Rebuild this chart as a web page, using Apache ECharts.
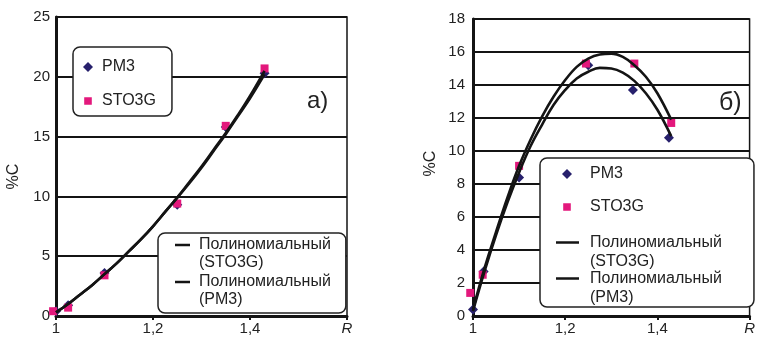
<!DOCTYPE html>
<html>
<head>
<meta charset="utf-8">
<script src="https://cdn.jsdelivr.net/npm/echarts@6/dist/echarts.min.js"></script>
<style>
html,body{margin:0;padding:0;background:#fff;}
#chart{width:758px;height:341px;}
</style>
</head>
<body>
<div id="chart"></div>
<script>
// ---------- data ----------
// chart а)
const R_PM3_A = [1.0, 1.025, 1.1, 1.25, 1.35, 1.43];
const PM3_A = [0.4, 0.9, 3.6, 9.3, 15.8, 20.3];
const R_STO3G_A = [0.994, 1.025, 1.1, 1.25, 1.35, 1.43];
const STO3G_A = [0.4, 0.7, 3.4, 9.4, 15.9, 20.7];
const TREND_R_A = [1.0, 1.025, 1.05, 1.075, 1.1, 1.125, 1.15, 1.175, 1.2, 1.225, 1.25, 1.275, 1.3, 1.325, 1.35, 1.375, 1.4, 1.43];
const TREND_STO3G_A = [0.3, 1.0, 1.8, 2.6, 3.5, 4.4, 5.4, 6.4, 7.5, 8.7, 9.9, 11.2, 12.5, 13.9, 15.3, 16.8, 18.4, 20.5];
const TREND_PM3_A = [0.3, 1.0, 1.8, 2.6, 3.5, 4.4, 5.4, 6.4, 7.5, 8.7, 9.9, 11.1, 12.4, 13.8, 15.2, 16.7, 18.2, 20.2];
// chart б)
const R_PM3_B = [1.0, 1.023, 1.1, 1.25, 1.347, 1.425];
const PM3_B = [0.4, 2.7, 8.4, 15.2, 13.7, 10.8];
const R_STO3G_B = [0.994, 1.021, 1.1, 1.245, 1.35, 1.43];
const STO3G_B = [1.4, 2.5, 9.1, 15.3, 15.3, 11.7];
const TREND_R_B = [1.0, 1.025, 1.05, 1.075, 1.1, 1.125, 1.15, 1.175, 1.2, 1.225, 1.25, 1.275, 1.3, 1.325, 1.35, 1.375, 1.4, 1.43];
const TREND_STO3G_B = [0.4, 2.9, 5.1, 7.2, 9.1, 10.7, 12.1, 13.3, 14.3, 15.1, 15.6, 15.85, 15.9, 15.7, 15.2, 14.5, 13.5, 11.9];
const TREND_PM3_B = [0.3, 2.7, 4.9, 6.9, 8.7, 10.3, 11.6, 12.8, 13.7, 14.4, 14.8, 15.04, 15.0, 14.75, 14.25, 13.5, 12.5, 10.9];
// axes
const X_TICK_LABELS = ['1', '1,2', '1,4', 'R'];
const Y_MAX_A = 25, Y_STEP_A = 5;
const Y_MAX_B = 18, Y_STEP_B = 2;
const NAME_PM3 = 'PM3';
const NAME_STO3G = 'STO3G';
const NAME_POLY_STO3G = 'Полиномиальный\n(STO3G)';
const NAME_POLY_PM3 = 'Полиномиальный\n(PM3)';
const Y_NAME = '%C';

// ---------- helpers ----------
const FONT = "'Liberation Sans', Arial, Helvetica, sans-serif";
const INK = '#141414';
const TXT = '#222';
const NAVY = '#27206c';
const PINK = '#e3187c';
const zip = (xs, ys) => xs.map((x, i) => [x, ys[i]]);

function xAxis(grid) {
  return {
    gridIndex: grid, type: 'value', min: 1, max: 1.6, interval: 0.2,
    axisLine: { show: true, lineStyle: { color: INK, width: 3 } },
    axisTick: { show: true, length: 4, lineStyle: { color: INK, width: 2 } },
    splitLine: { show: false },
    axisLabel: {
      fontFamily: FONT, fontSize: 15, color: TXT, margin: 5,
      showMinLabel: true, showMaxLabel: true,
      formatter: (v, i) => {
        const t = X_TICK_LABELS[i] || '';
        return t === 'R' ? '{r|R}' : t;
      },
      rich: { r: { fontFamily: FONT, fontSize: 15, fontStyle: 'italic', color: TXT } }
    }
  };
}
function yAxis(grid, max, step, margin, namePad) {
  return {
    gridIndex: grid, type: 'value', min: 0, max: max, interval: step,
    name: Y_NAME, nameLocation: 'middle', nameGap: 34, nameRotate: 90,
    nameTextStyle: { fontFamily: FONT, fontSize: 16, color: TXT, padding: namePad },
    axisLine: { show: true, lineStyle: { color: INK, width: 3 } },
    axisTick: { show: false },
    splitLine: { show: true, lineStyle: { color: INK, width: 2 } },
    axisLabel: { fontFamily: FONT, fontSize: 15, color: TXT, margin: margin }
  };
}
function scatter(name, xs, ys, grid, sym, size, color) {
  return {
    type: 'scatter', name: name, xAxisIndex: grid, yAxisIndex: grid,
    data: zip(xs, ys), symbol: sym, symbolSize: size, clip: false, z: 2,
    itemStyle: { color: color, opacity: 1 }
  };
}
function trend(name, xs, ys, grid) {
  return {
    type: 'line', name: name, xAxisIndex: grid, yAxisIndex: grid,
    data: zip(xs, ys), smooth: 0.4, showSymbol: false, symbol: 'none', z: 3,
    itemStyle: { color: INK },
    lineStyle: { color: INK, width: 2.6 }
  };
}
// legend icons (line drawn at the first text line)
const lineIcon = (w, h, yc, t) =>
  'path://M0,0L' + w + ',0L' + w + ',0.01L0,0.01Z M0,' + (yc - t / 2) + 'L' + w + ',' + (yc - t / 2) +
  'L' + w + ',' + (yc + t / 2) + 'L0,' + (yc + t / 2) + 'Z M0,' + (h - 0.01) + 'L' + w + ',' + (h - 0.01) +
  'L' + w + ',' + h + 'L0,' + h + 'Z';
const SQUARE_ICON = 'path://M0,0L0.01,0L0.01,0.01L0,0.01Z M1.2,1.2L8.8,1.2L8.8,8.8L1.2,8.8Z M9.99,9.99L10,9.99L10,10L9.99,10Z';

const legendText = (lh, padLeft) => ({ fontFamily: FONT, fontSize: 16, color: TXT, lineHeight: lh, padding: [0, 0, 0, padLeft] });

const option = {
  animation: false,
  backgroundColor: '#fff',
  grid: [
    { left: 56, top: 17, width: 291, height: 299, show: true, borderColor: INK, borderWidth: 1.5, backgroundColor: 'transparent' },
    { left: 473, top: 19, width: 284, height: 297, show: true, borderColor: INK, borderWidth: 1.5, backgroundColor: 'transparent' }
  ],
  xAxis: [xAxis(0), xAxis(1)],
  yAxis: [yAxis(0, Y_MAX_A, Y_STEP_A, 6, [0, 20, 0, 0]), yAxis(1, Y_MAX_B, Y_STEP_B, 8, [0, 0, 0, 8])],
  legend: [
    { // chart а) markers
      left: 73, top: 47, orient: 'vertical', selectedMode: false,
      padding: [11, 16, 6, 10], itemGap: 16, itemWidth: 10, itemHeight: 10,
      backgroundColor: '#fff', borderColor: TXT, borderWidth: 1.5, borderRadius: 7,
      textStyle: legendText(18, 4),
      itemStyle: { borderWidth: 0 },
      data: [
        { name: NAME_PM3, icon: 'diamond', itemStyle: { color: NAVY, borderWidth: 0 } },
        { name: NAME_STO3G, icon: SQUARE_ICON, itemStyle: { color: PINK, borderWidth: 0 } }
      ]
    },
    { // chart а) trendlines
      left: 158, top: 233, orient: 'vertical', selectedMode: false,
      padding: [3, 15, 4, 17], itemGap: 1, itemWidth: 15, itemHeight: 36,
      backgroundColor: '#fff', borderColor: TXT, borderWidth: 1.5, borderRadius: 7,
      textStyle: legendText(18, 4),
      itemStyle: { borderWidth: 0 },
      data: [
        { name: NAME_POLY_STO3G, icon: lineIcon(15, 36, 9, 2.6), itemStyle: { color: INK, borderWidth: 0 } },
        { name: NAME_POLY_PM3, icon: lineIcon(15, 36, 9, 2.6), itemStyle: { color: INK, borderWidth: 0 } }
      ]
    },
    { // chart б) markers (box encloses the whole legend)
      left: 540, top: 158, orient: 'vertical', selectedMode: false,
      padding: [6.5, 110, 90.5, 22], itemGap: 14, itemWidth: 10, itemHeight: 10,
      backgroundColor: '#fff', borderColor: TXT, borderWidth: 1.5, borderRadius: 7,
      textStyle: legendText(19, 13),
      itemStyle: { borderWidth: 0 },
      data: [
        { name: NAME_PM3, icon: 'diamond', itemStyle: { color: NAVY, borderWidth: 0 } },
        { name: NAME_STO3G, icon: SQUARE_ICON, itemStyle: { color: PINK, borderWidth: 0 } }
      ]
    },
    { // chart б) trendlines
      left: 556, top: 233, orient: 'vertical', selectedMode: false,
      padding: 0, itemGap: -2, itemWidth: 23, itemHeight: 38,
      backgroundColor: 'transparent', borderWidth: 0,
      textStyle: legendText(19, 6),
      itemStyle: { borderWidth: 0 },
      data: [
        { name: NAME_POLY_STO3G, icon: lineIcon(23, 38, 9.5, 2.6), itemStyle: { color: INK, borderWidth: 0 } },
        { name: NAME_POLY_PM3, icon: lineIcon(23, 38, 9.5, 2.6), itemStyle: { color: INK, borderWidth: 0 } }
      ]
    }
  ],
  graphic: [
    { type: 'text', x: 307, y: 101, z: 10, style: { text: 'а)', font: '24px ' + FONT, fill: TXT, verticalAlign: 'middle' } },
    { type: 'text', x: 719, y: 103, z: 10, style: { text: 'б)', font: '25px ' + FONT, fill: TXT, verticalAlign: 'middle' } }
  ],
  series: [
    scatter(NAME_PM3, R_PM3_A, PM3_A, 0, 'diamond', 10, NAVY),
    scatter(NAME_STO3G, R_STO3G_A, STO3G_A, 0, 'rect', 8, PINK),
    trend(NAME_POLY_STO3G, TREND_R_A, TREND_STO3G_A, 0),
    trend(NAME_POLY_PM3, TREND_R_A, TREND_PM3_A, 0),
    scatter(NAME_PM3, R_PM3_B, PM3_B, 1, 'diamond', 10, NAVY),
    scatter(NAME_STO3G, R_STO3G_B, STO3G_B, 1, 'rect', 8, PINK),
    trend(NAME_POLY_STO3G, TREND_R_B, TREND_STO3G_B, 1),
    trend(NAME_POLY_PM3, TREND_R_B, TREND_PM3_B, 1)
  ]
};

const chart = echarts.init(document.getElementById('chart'), null, { renderer: 'canvas' });
chart.setOption(option);
</script>
</body>
</html>
